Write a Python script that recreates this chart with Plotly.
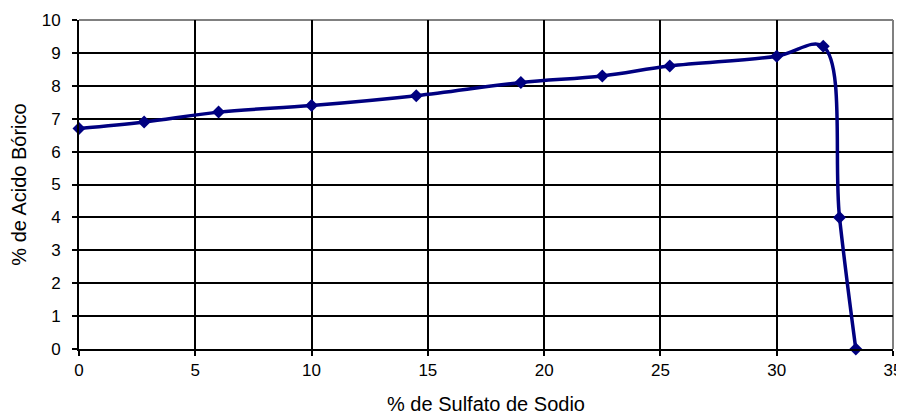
import plotly.graph_objects as go

sulfato = [0, 2.8, 6.0, 10.0, 14.5, 19.0, 22.5, 25.4, 30.0, 32.0, 32.7, 33.4]
acido = [6.7, 6.9, 7.2, 7.4, 7.7, 8.1, 8.3, 8.6, 8.9, 9.2, 4.0, 0.0]

x_ticks = [0, 5, 10, 15, 20, 25, 30, 35]
y_ticks = list(range(0, 11))

navy = "#000080"
tick_font = dict(family="Liberation Sans, Arial, sans-serif", size=17, color="black")
title_font = dict(family="Liberation Sans, Arial, sans-serif", size=20, color="black")

fig = go.Figure()
fig.add_trace(go.Scatter(
    x=sulfato, y=acido, mode="lines+markers",
    line=dict(color=navy, width=3.5, shape="spline", smoothing=1.0),
    marker=dict(symbol="diamond", size=10, color=navy),
    showlegend=False, cliponaxis=False,
))

# page body has an 8px default margin, so the figure is sized to fit the window
fig.update_layout(
    width=896, height=411,
    margin=dict(l=71, r=11, t=12, b=70),
    paper_bgcolor="white", plot_bgcolor="white",
    font=tick_font,
    xaxis=dict(range=[0, 35], tickvals=x_ticks, showgrid=True, gridcolor="black", gridwidth=1.5,
               showline=True, linecolor="black", linewidth=2, ticks="outside", ticklen=5,
               tickcolor="black", tickwidth=1.5, zeroline=False, automargin=False,
               tickfont=tick_font, ticklabelstandoff=0,
               title=dict(text="% de Sulfato de Sodio", font=title_font, standoff=18)),
    yaxis=dict(range=[0, 10], tickvals=y_ticks, showgrid=True, gridcolor="black", gridwidth=1.5,
               showline=True, linecolor="black", linewidth=2, ticks="outside", ticklen=5,
               tickcolor="black", tickwidth=1.5, zeroline=False, automargin=False,
               tickfont=tick_font, ticklabelstandoff=8,
               title=dict(text="% de Acido Bórico", font=title_font, standoff=12)),
    shapes=[
        dict(type="line", xref="paper", yref="paper", x0=0, x1=1, y0=1, y1=1,
             line=dict(color="#808080", width=2), layer="below"),
        dict(type="line", xref="paper", yref="paper", x0=1, x1=1, y0=0, y1=1,
             line=dict(color="#808080", width=2), layer="below"),
    ],
)

fig.write_html("out.html")
